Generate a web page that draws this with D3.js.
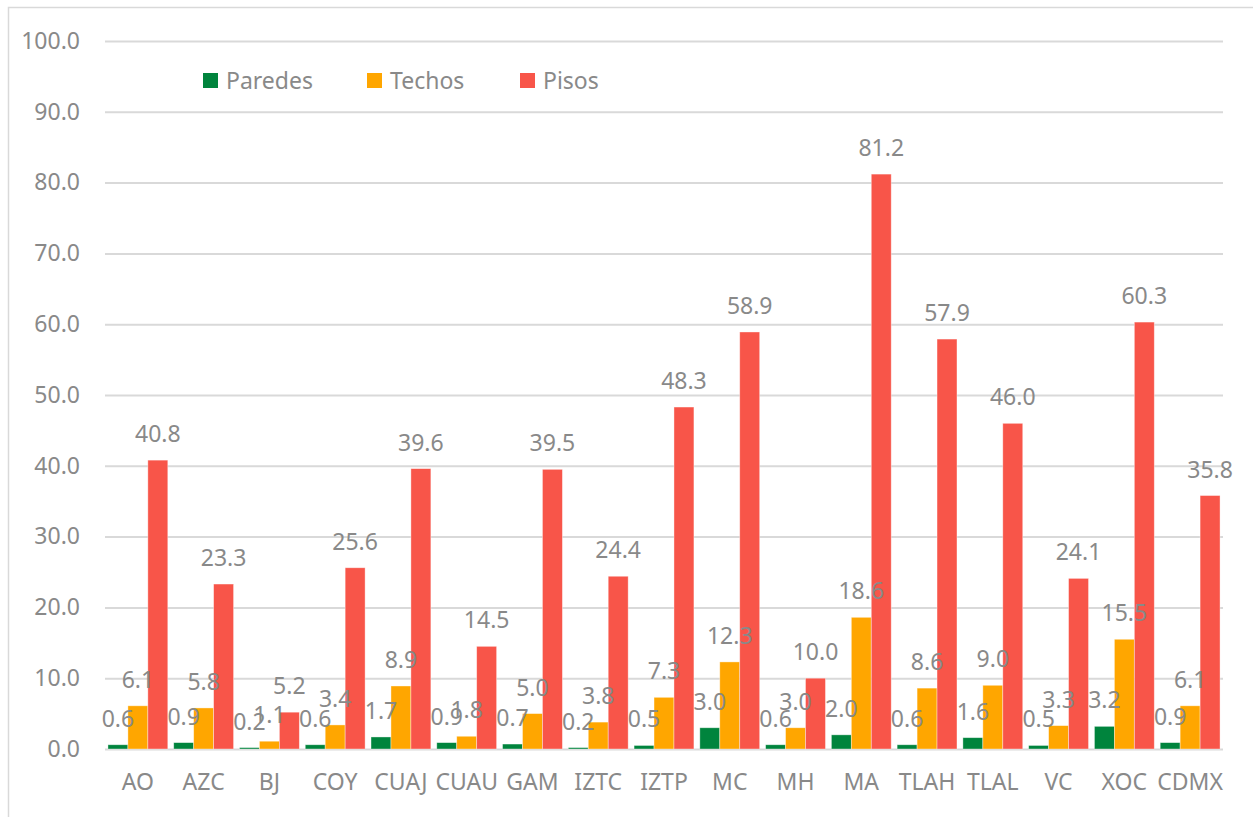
<!DOCTYPE html>
<html>
<head>
<meta charset="utf-8">
<script src="https://cdn.jsdelivr.net/npm/d3@7"></script>
<style>
  html, body { margin: 0; padding: 0; background: #fff; }
  svg { display: block; }
  text { font-family: "Noto Sans", "Noto Sans CJK JP", sans-serif; fill: #898989; }
</style>
</head>
<body>
<svg id="chart" width="1253" height="817"></svg>
<script>
// Alcaldías of Mexico City plus the city total
const categories = ["AO", "AZC", "BJ", "COY", "CUAJ", "CUAU", "GAM", "IZTC", "IZTP", "MC", "MH", "MA", "TLAH", "TLAL", "VC", "XOC", "CDMX"];

// Percentages by dwelling element
const paredes = [0.6, 0.9, 0.2, 0.6, 1.7, 0.9, 0.7, 0.2, 0.5, 3.0, 0.6, 2.0, 0.6, 1.6, 0.5, 3.2, 0.9];
const techos  = [6.1, 5.8, 1.1, 3.4, 8.9, 1.8, 5.0, 3.8, 7.3, 12.3, 3.0, 18.6, 8.6, 9.0, 3.3, 15.5, 6.1];
const pisos   = [40.8, 23.3, 5.2, 25.6, 39.6, 14.5, 39.5, 24.4, 48.3, 58.9, 10.0, 81.2, 57.9, 46.0, 24.1, 60.3, 35.8];

const seriesNames = ["Paredes", "Techos", "Pisos"];
const seriesValues = [paredes, techos, pisos];
const seriesColors = ["#00843d", "#ffa600", "#f85549"];

const yTicks = [0, 10, 20, 30, 40, 50, 60, 70, 80, 90, 100];

const FONT = "\"Noto Sans\", \"Noto Sans CJK JP\", sans-serif";
const FS = 23;

const svg = d3.select("#chart");
const W = 1253, H = 817;

svg.append("rect").attr("width", W).attr("height", H).attr("fill", "#fff");
// chart frame
svg.append("rect")
  .attr("x", 8.5).attr("y", 7.5).attr("width", W).attr("height", H)
  .attr("fill", "none").attr("stroke", "#d9d9d9").attr("stroke-width", 1.5);

const plot = { left: 105, right: 1223, top: 41, bottom: 749 };

const x = d3.scaleBand()
  .domain(categories)
  .range([plot.left, plot.right])
  .paddingInner(0.09)
  .paddingOuter(0.045);

const xSub = d3.scaleBand()
  .domain(seriesNames)
  .range([0, x.bandwidth()]);

const y = d3.scaleLinear().domain([0, 100]).range([plot.bottom, plot.top]);

// horizontal gridlines with value labels
const yAxis = d3.axisLeft(y)
  .tickValues(yTicks)
  .tickFormat(d3.format(".1f"))
  .tickSize(-(plot.right - plot.left))
  .tickPadding(25);

const gy = svg.append("g")
  .attr("transform", `translate(${plot.left},0)`)
  .call(yAxis);
gy.select(".domain").remove();
gy.selectAll(".tick line").attr("stroke", "#d9d9d9").attr("stroke-width", 2);
gy.selectAll(".tick text")
  .attr("font-size", FS)
  .attr("fill", "#898989")
  .attr("font-family", FONT);

// bars
const groups = svg.append("g").selectAll("g")
  .data(seriesNames.map((name, i) => ({ name, values: seriesValues[i], color: seriesColors[i] })))
  .join("g");

groups.each(function (s) {
  d3.select(this).selectAll("rect")
    .data(s.values.map((v, j) => ({ cat: categories[j], v })))
    .join("rect")
    .attr("x", d => x(d.cat) + xSub(s.name))
    .attr("y", d => y(d.v))
    .attr("width", xSub.bandwidth())
    .attr("height", d => y(0) - y(d.v))
    .attr("fill", s.color)
    .attr("stroke", "#ffffff")
    .attr("stroke-opacity", 0.5)
    .attr("stroke-width", 0.75);
});

// category labels
const xAxis = d3.axisBottom(x).tickSize(0).tickPadding(25);
const gx = svg.append("g")
  .attr("transform", `translate(0,${plot.bottom})`)
  .call(xAxis);
gx.select(".domain").remove();
gx.selectAll(".tick text")
  .attr("font-size", FS)
  .attr("fill", "#898989")
  .attr("font-family", FONT);

// value labels above every bar
const labels = svg.append("g");
seriesNames.forEach((name, i) => {
  labels.selectAll(null)
    .data(seriesValues[i].map((v, j) => ({ cat: categories[j], v })))
    .join("text")
    .attr("x", d => x(d.cat) + xSub(name) + xSub.bandwidth() / 2)
    .attr("y", d => y(d.v) - 18)
    .attr("text-anchor", "middle")
    .attr("font-size", FS)
    .text(d => d.v.toFixed(1));
});

// legend
const legendX = [203, 367, 520];
const legend = svg.append("g");
seriesNames.forEach((name, i) => {
  legend.append("rect")
    .attr("x", legendX[i]).attr("y", 73)
    .attr("width", 15).attr("height", 15)
    .attr("fill", seriesColors[i]);
  legend.append("text")
    .attr("x", legendX[i] + 23).attr("y", 80)
    .attr("dominant-baseline", "central")
    .attr("font-size", FS)
    .text(name);
});
</script>
</body>
</html>
